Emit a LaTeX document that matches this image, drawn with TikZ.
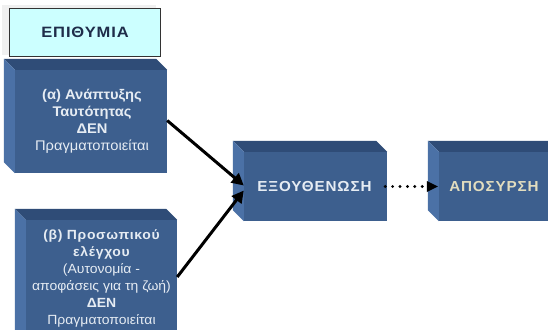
\documentclass[tikz,border=0pt]{standalone}
\usepackage{fontspec}
\setmainfont{Liberation Sans}
\newfontfamily\capsfont[FakeStretch=1.05,LetterSpace=6]{Liberation Sans}
\newfontfamily\titlefont[FakeStretch=1.1,LetterSpace=6]{Liberation Sans}
\newfontfamily\bodyfont[FakeStretch=1.05]{Liberation Sans}
\newfontfamily\spacedfont[FakeStretch=1.05,LetterSpace=5]{Liberation Sans}
\usetikzlibrary{arrows.meta}

\definecolor{boxfront}{HTML}{3D5F8E}
\definecolor{boxtop}{HTML}{2F4C77}
\definecolor{boxside}{HTML}{4B71A6}
\definecolor{paletext}{HTML}{E6ECF3}
\definecolor{beigetext}{HTML}{E2DDBF}
\definecolor{wishfill}{HTML}{CCFFFF}
\definecolor{wishtext}{HTML}{1F2D4A}

\tikzset{
  slab/.style={fill=boxfront, inner sep=0pt},
  slabtext/.style={text=paletext, align=center, inner sep=0pt,
    font=\bodyfont\fontsize{14}{17}\selectfont},
  capstext/.style={text=paletext, inner sep=0pt,
    font=\capsfont\bfseries\fontsize{14.5}{16}\selectfont},
  flow/.style={line width=3pt, -{Triangle[length=12pt,width=12pt]}},
  dots/.style={line width=3.2pt, line cap=round, dash pattern=on 0pt off 7.4pt},
}

\newcommand\spacedbold[1]{{\spacedfont\bfseries #1}}

% top and left faces of an extruded box, 11 units deep towards the upper left
\newcommand\slabfaces[1]{%
  \fill[boxtop] (#1.north west) -- ([shift={(-11,-11)}]#1.north west)
    -- ([shift={(-11,-11)}]#1.north east) -- (#1.north east) -- cycle;
  \fill[boxside] (#1.north west) -- ([shift={(-11,-11)}]#1.north west)
    -- ([shift={(-11,-11)}]#1.south west) -- (#1.south west) -- cycle;
}

\begin{document}
\begin{tikzpicture}[x=1pt,y=-1pt]
  \clip (0,0) rectangle (548,329);
  \fill[white] (0,0) rectangle (548,329);

  % wish box
  \fill[black!6] (2,5) rectangle (156,55);
  \node[draw=black!80, line width=0.8pt, fill=wishfill, minimum width=151pt,
        minimum height=48pt, inner sep=0pt, text=wishtext,
        font=\titlefont\bfseries\fontsize{15}{17}\selectfont] (wish) at (85,32.5) {ΕΠΙΘΥΜΙΑ};

  % extruded boxes
  \node[slab, minimum width=152pt, minimum height=103pt] (A) at (91,121.5) {};
  \slabfaces{A}
  \node[slabtext] (Atext) at (92,121.5)
    {\textbf{(α) Ανάπτυξης}\\\textbf{Ταυτότητας}\\\textbf{ΔΕΝ}\\Πραγματοποιείται};

  \node[slab, minimum width=151pt, minimum height=122pt] (B) at (101.5,281) {};
  \slabfaces{B}
  \node[slabtext, font=\bodyfont\fontsize{13.3}{17}\selectfont] (Btext) at (101.5,278)
    {\spacedbold{(β) Προσωπικού}\\\spacedbold{ελέγχου}\\(Αυτονομία -\\αποφάσεις για τη ζωή)\\\textbf{ΔΕΝ}\\Πραγματοποιείται};

  \node[slab, minimum width=143pt, minimum height=69pt] (E) at (315.5,186.5) {};
  \slabfaces{E}
  \node[capstext] (Etext) at (314.5,186.5) {ΕΞΟΥΘΕΝΩΣΗ};

  \node[slab, minimum width=121pt, minimum height=69pt] (P) at (499.5,186.5) {};
  \slabfaces{P}
  \node[capstext, text=beigetext] (Ptext) at (494,186.5) {ΑΠΟΣΥΡΣΗ};

  % connectors
  \draw[flow] ([yshift=1pt]A.east) -- ([yshift=1pt]E.west);
  \draw[flow] ([yshift=4pt]B.east) -- ([yshift=-4pt]E.west);
  \draw[dots] ([xshift=-2pt]E.east) -- ([xshift=-15pt]P.west);
  \fill (P.west) ++(-1,0) -- ++(-11,-5.5) -- ++(0,11) -- cycle;
\end{tikzpicture}
\end{document}
